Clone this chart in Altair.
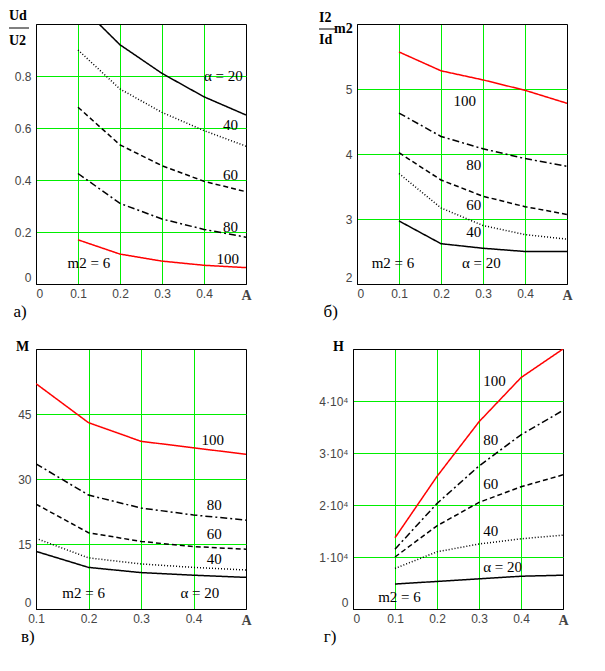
import altair as alt
import pandas as pd

alphas = [20, 40, 60, 80, 100]

# Panel а) Ud/U2
a_x = [0.1, 0.2, 0.3, 0.4, 0.5]
a_x20 = [0.15, 0.2, 0.3, 0.4, 0.5]
a_20 = [1.0, 0.92, 0.81, 0.72, 0.65]
a_40 = [0.90, 0.75, 0.66, 0.59, 0.53]
a_60 = [0.68, 0.535, 0.455, 0.395, 0.355]
a_80 = [0.425, 0.31, 0.25, 0.21, 0.18]
a_100 = [0.17, 0.115, 0.088, 0.072, 0.063]

# Panel б) I2/Id m2
b_x = [0.1, 0.2, 0.3, 0.4, 0.5]
b_20 = [2.97, 2.62, 2.55, 2.50, 2.50]
b_40 = [3.70, 3.17, 2.90, 2.76, 2.69]
b_60 = [4.02, 3.60, 3.35, 3.19, 3.07]
b_80 = [4.63, 4.27, 4.08, 3.93, 3.81]
b_100 = [5.57, 5.28, 5.14, 4.98, 4.78]

# Panel в) M
c_x = [0.1, 0.2, 0.3, 0.4, 0.5]
c_20 = [13.3, 9.6, 8.4, 7.8, 7.3]
c_40 = [16.3, 11.8, 10.4, 9.6, 9.0]
c_60 = [24.2, 17.6, 15.6, 14.4, 13.8]
c_80 = [33.5, 26.3, 23.3, 21.7, 20.5]
c_100 = [52.0, 43.0, 38.7, 37.2, 35.7]

# Panel г) H
d_x = [0.1, 0.2, 0.3, 0.4, 0.5]
d_20 = [4800, 5300, 5800, 6300, 6500]
d_40 = [7800, 11000, 12500, 13500, 14200]
d_60 = [10000, 16000, 20500, 23500, 25800]
d_80 = [11500, 20300, 27500, 33500, 38200]
d_100 = [13700, 25500, 36000, 44500, 50000]

SERIF = "Liberation Serif"
SANS = "Liberation Sans"


def long_df(xs_list, ys_list):
    rows = []
    for a, xs, ys in zip(alphas, xs_list, ys_list):
        for x, y in zip(xs, ys):
            rows.append({"x": x, "y": y, "alpha": a})
    return pd.DataFrame(rows)


def panel(df, xdom, ydom, yvals, ylabexpr, yfmt, labels, title, header):
    xvals = [v for v in [0, 0.1, 0.2, 0.3, 0.4, 0.5] if v >= xdom[0]]
    xs = alt.Scale(domain=xdom, nice=False, zero=False)
    ys = alt.Scale(domain=ydom, nice=False, zero=False)
    edge_x = f"datum.value=={xdom[0]} || datum.value=={xdom[1]}"
    edge_y = f"datum.value=={ydom[0]} || datum.value=={ydom[1]}"
    xaxis = alt.Axis(
        values=xvals, title=None, ticks=False, labelPadding=4, format="~g",
        labelExpr="datum.value==0.5 ? 'A' : datum.label",
        labelFont={"condition": {"test": "datum.value==0.5", "value": SERIF}, "value": SANS},
        labelFontWeight={"condition": {"test": "datum.value==0.5", "value": "bold"}, "value": "normal"},
        labelFontSize={"condition": {"test": "datum.value==0.5", "value": 14}, "value": 12},
        labelAlign={"condition": {"test": "datum.value==0", "value": "left"}, "value": "center"},
        labelColor="#444", labelFlush=False,
        domainColor="black", gridWidth=1, gridOpacity=1,
        gridColor={"condition": {"test": edge_x, "value": "black"}, "value": "#00ee00"},
    )
    yaxis = alt.Axis(
        values=yvals, title=None, ticks=False, labelPadding=5, format=yfmt,
        labelExpr=ylabexpr, labelFont=SANS, labelColor="#444", labelFontSize=12,
        labelBaseline={"condition": {"test": f"datum.value=={ydom[0]}", "value": "bottom"}, "value": "middle"},
        domainColor="black", gridWidth=1, gridOpacity=1,
        gridColor={"condition": {"test": edge_y, "value": "black"}, "value": "#00ee00"},
    )
    lines = alt.Chart(df).mark_line(clip=True, strokeWidth=1.5).encode(
        x=alt.X("x:Q", scale=xs, axis=xaxis),
        y=alt.Y("y:Q", scale=ys, axis=yaxis),
        color=alt.Color("alpha:N", scale=alt.Scale(domain=alphas, range=["black", "black", "black", "black", "red"]), legend=None),
        strokeDash=alt.StrokeDash("alpha:N", scale=alt.Scale(domain=alphas, range=[[1, 0], [1, 2], [5, 3], [7, 3, 2, 3], [1, 0]]), legend=None),
        detail="alpha:N",
    )
    ldf = pd.DataFrame(labels, columns=["x", "y", "t"])
    txt = alt.Chart(ldf).mark_text(font=SERIF, fontSize=15, align="left", baseline="middle").encode(
        x=alt.X("x:Q", scale=xs), y=alt.Y("y:Q", scale=ys), text="t:N"
    )
    layers = [lines, txt] + header
    return alt.layer(*layers).properties(
        width=210, height=260,
        title=alt.TitleParams(title, orient="bottom", anchor="start", font=SERIF, fontSize=17, fontWeight="normal", offset=2, dx=5),
    )


def hdr_text(t, x, y, **kw):
    return alt.Chart(pd.DataFrame({"t": [t]})).mark_text(
        font=SERIF, fontSize=14, fontWeight="bold", align="left", baseline="middle", **kw
    ).encode(text="t:N", x=alt.value(x), y=alt.value(y))


def bar(x1, x2, y):
    return alt.Chart(pd.DataFrame({"t": [0]})).mark_rule(color="black", strokeWidth=1).encode(
        x=alt.value(x1), x2=alt.value(x2), y=alt.value(y)
    )


pa = panel(
    long_df([a_x20, a_x, a_x, a_x, a_x], [a_20, a_40, a_60, a_80, a_100]),
    [0, 0.5], [0, 1.0], [0, 0.2, 0.4, 0.6, 0.8, 1.0],
    "datum.value==1 ? '' : datum.label", "~g",
    [(0.40, 0.8, "α =  20"), (0.445, 0.61, "40"), (0.445, 0.42, "60"),
     (0.445, 0.22, "80"), (0.43, 0.098, "100"), (0.075, 0.08, "m2 = 6")],
    "а)",
    [hdr_text("Ud", -27, -8), bar(-27, -7, 4), hdr_text("U2", -27, 17)],
)

pb = panel(
    long_df([b_x] * 5, [b_20, b_40, b_60, b_80, b_100]),
    [0, 0.5], [2, 6], [2, 3, 4, 5, 6],
    "datum.value==6 ? '' : datum.label", "d",
    [(0.23, 4.82, "100"), (0.26, 3.83, "80"), (0.26, 3.21, "60"), (0.26, 2.8, "40"),
     (0.035, 2.32, "m2 = 6"), (0.25, 2.32, "α = 20")],
    "б)",
    [hdr_text("I2", -38, -6), bar(-38, -22, 5), hdr_text("Id", -38, 16), hdr_text("m2", -23, 5)],
)

pc = panel(
    long_df([c_x] * 5, [c_20, c_40, c_60, c_80, c_100]),
    [0.1, 0.5], [0, 60], [0, 15, 30, 45, 60],
    "datum.value==60 ? '' : datum.label", "d",
    [(0.415, 39, "100"), (0.425, 24, "80"), (0.425, 17.3, "60"), (0.425, 11.6, "40"),
     (0.375, 3.7, "α =  20"), (0.15, 3.7, "m2 = 6")],
    "в)",
    [hdr_text("M", -20, -2)],
)

pd_ = panel(
    long_df([d_x] * 5, [d_20, d_40, d_60, d_80, d_100]),
    [0, 0.5], [0, 50000], [0, 10000, 20000, 30000, 40000, 50000],
    "datum.value==0 ? '0' : (datum.value==50000 ? '' : format(datum.value/10000,'d') + '·10⁴')", "d",
    [(0.31, 43800, "100"), (0.31, 32500, "80"), (0.31, 24000, "60"), (0.31, 15000, "40"),
     (0.31, 8000, "α =  20"), (0.06, 2300, "m2 = 6")],
    "г)",
    [hdr_text("H", -20, -2)],
)

chart = alt.vconcat(
    alt.hconcat(pa, pb, spacing=66),
    alt.hconcat(pc, pd_, spacing=66),
    spacing=18,
).configure_view(stroke="black", strokeWidth=1).configure(background="white", padding=0)

chart.save("out.html", embed_options={"renderer": "svg", "actions": False})
